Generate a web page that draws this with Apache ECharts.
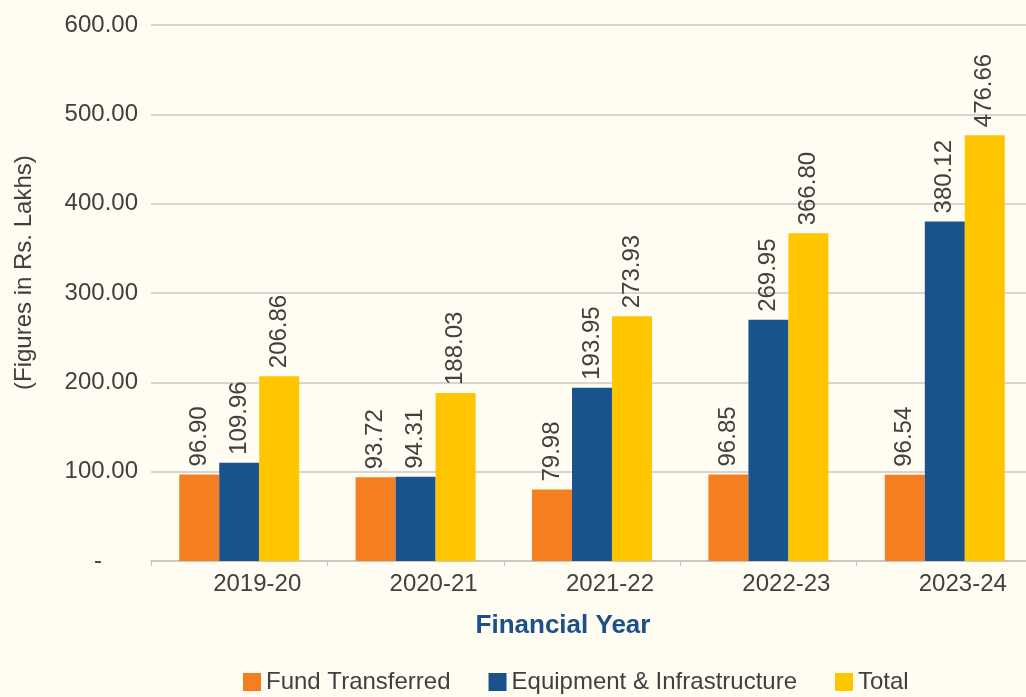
<!DOCTYPE html>
<html>
<head>
<meta charset="utf-8">
<script src="https://cdn.jsdelivr.net/npm/echarts@6/dist/echarts.min.js"></script>
<style>
  html, body { margin: 0; padding: 0; background: #fffcf1; }
  #main { width: 1026px; height: 697px; }
</style>
</head>
<body>
<div id="main"></div>
<script>
// data
var years = ['2019-20', '2020-21', '2021-22', '2022-23', '2023-24'];
var fundTransferred = [96.90, 93.72, 79.98, 96.85, 96.54];
var equipInfra = [109.96, 94.31, 193.95, 269.95, 380.12];
var total = [206.86, 188.03, 273.93, 366.80, 476.66];
var yTicks = [0, 100, 200, 300, 400, 500, 600];

var textColor = '#404040';
var font = 'Liberation Sans, Arial, Helvetica, sans-serif';

var chart = echarts.init(document.getElementById('main'));

function barLabel() {
    return {
        show: true,
        position: 'top',
        rotate: 90,
        align: 'left',
        verticalAlign: 'middle',
        distance: 8,
        color: textColor,
        fontSize: 24,
        fontFamily: font,
        formatter: function (p) { return p.value.toFixed(2); }
    };
}

var option = {
    backgroundColor: '#fffcf1',
    animation: false,
    textStyle: {fontFamily: font},
    grid: {left: 151, width: 882, top: 25, bottom: 136, containLabel: false, outerBoundsMode: 'none'},
    legend: {
        left: 238,
        top: 665,
        itemWidth: 18,
        itemHeight: 18,
        itemGap: 38,
        icon: 'rect',
        textStyle: {color: textColor, fontSize: 24, fontFamily: font},
        data: ['Fund Transferred', 'Equipment & Infrastructure', 'Total']
    },
    xAxis: {
        type: 'category',
        data: years,
        axisLine: {lineStyle: {color: '#c4c4c4', width: 1.5}},
        axisTick: {show: true, length: 5, lineStyle: {color: '#c4c4c4'}},
        axisLabel: {
            color: textColor,
            fontSize: 24,
            fontFamily: font,
            margin: 11,
            padding: [0, 0, 0, 36]
        }
    },
    yAxis: {
        type: 'value',
        min: yTicks[0],
        max: yTicks[yTicks.length - 1],
        interval: 100,
        axisLine: {show: false},
        axisTick: {show: false},
        splitLine: {lineStyle: {color: '#c8c8c8', width: 1.5}},
        axisLabel: {
            color: textColor,
            fontSize: 24,
            fontFamily: font,
            margin: 13,
            formatter: function (v) { return v === 0 ? '{z|-}' : v.toFixed(2); },
            rich: {
                z: {color: textColor, fontSize: 24, fontFamily: font, padding: [0, 36, 0, 0]}
            }
        }
    },
    graphic: [
        {
            type: 'text',
            x: 563,
            y: 626,
            style: {
                text: 'Financial Year',
                fill: '#1d4f8c',
                font: 'bold 26px ' + font,
                textAlign: 'center',
                textVerticalAlign: 'middle'
            }
        },
        {
            type: 'text',
            x: 12,
            y: 390,
            rotation: Math.PI / 2,
            style: {
                text: '(Figures in Rs. Lakhs)',
                fill: textColor,
                font: '24px ' + font
            }
        }
    ],
    series: [
        {
            name: 'Fund Transferred',
            type: 'bar',
            data: fundTransferred,
            barGap: '0%',
            barCategoryGap: '32%',
            itemStyle: {color: '#f57e20'},
            label: barLabel()
        },
        {
            name: 'Equipment & Infrastructure',
            type: 'bar',
            data: equipInfra,
            itemStyle: {color: '#1a528e'},
            label: barLabel()
        },
        {
            name: 'Total',
            type: 'bar',
            data: total,
            itemStyle: {color: '#ffc600'},
            label: barLabel()
        }
    ]
};

chart.setOption(option);
</script>
</body>
</html>
